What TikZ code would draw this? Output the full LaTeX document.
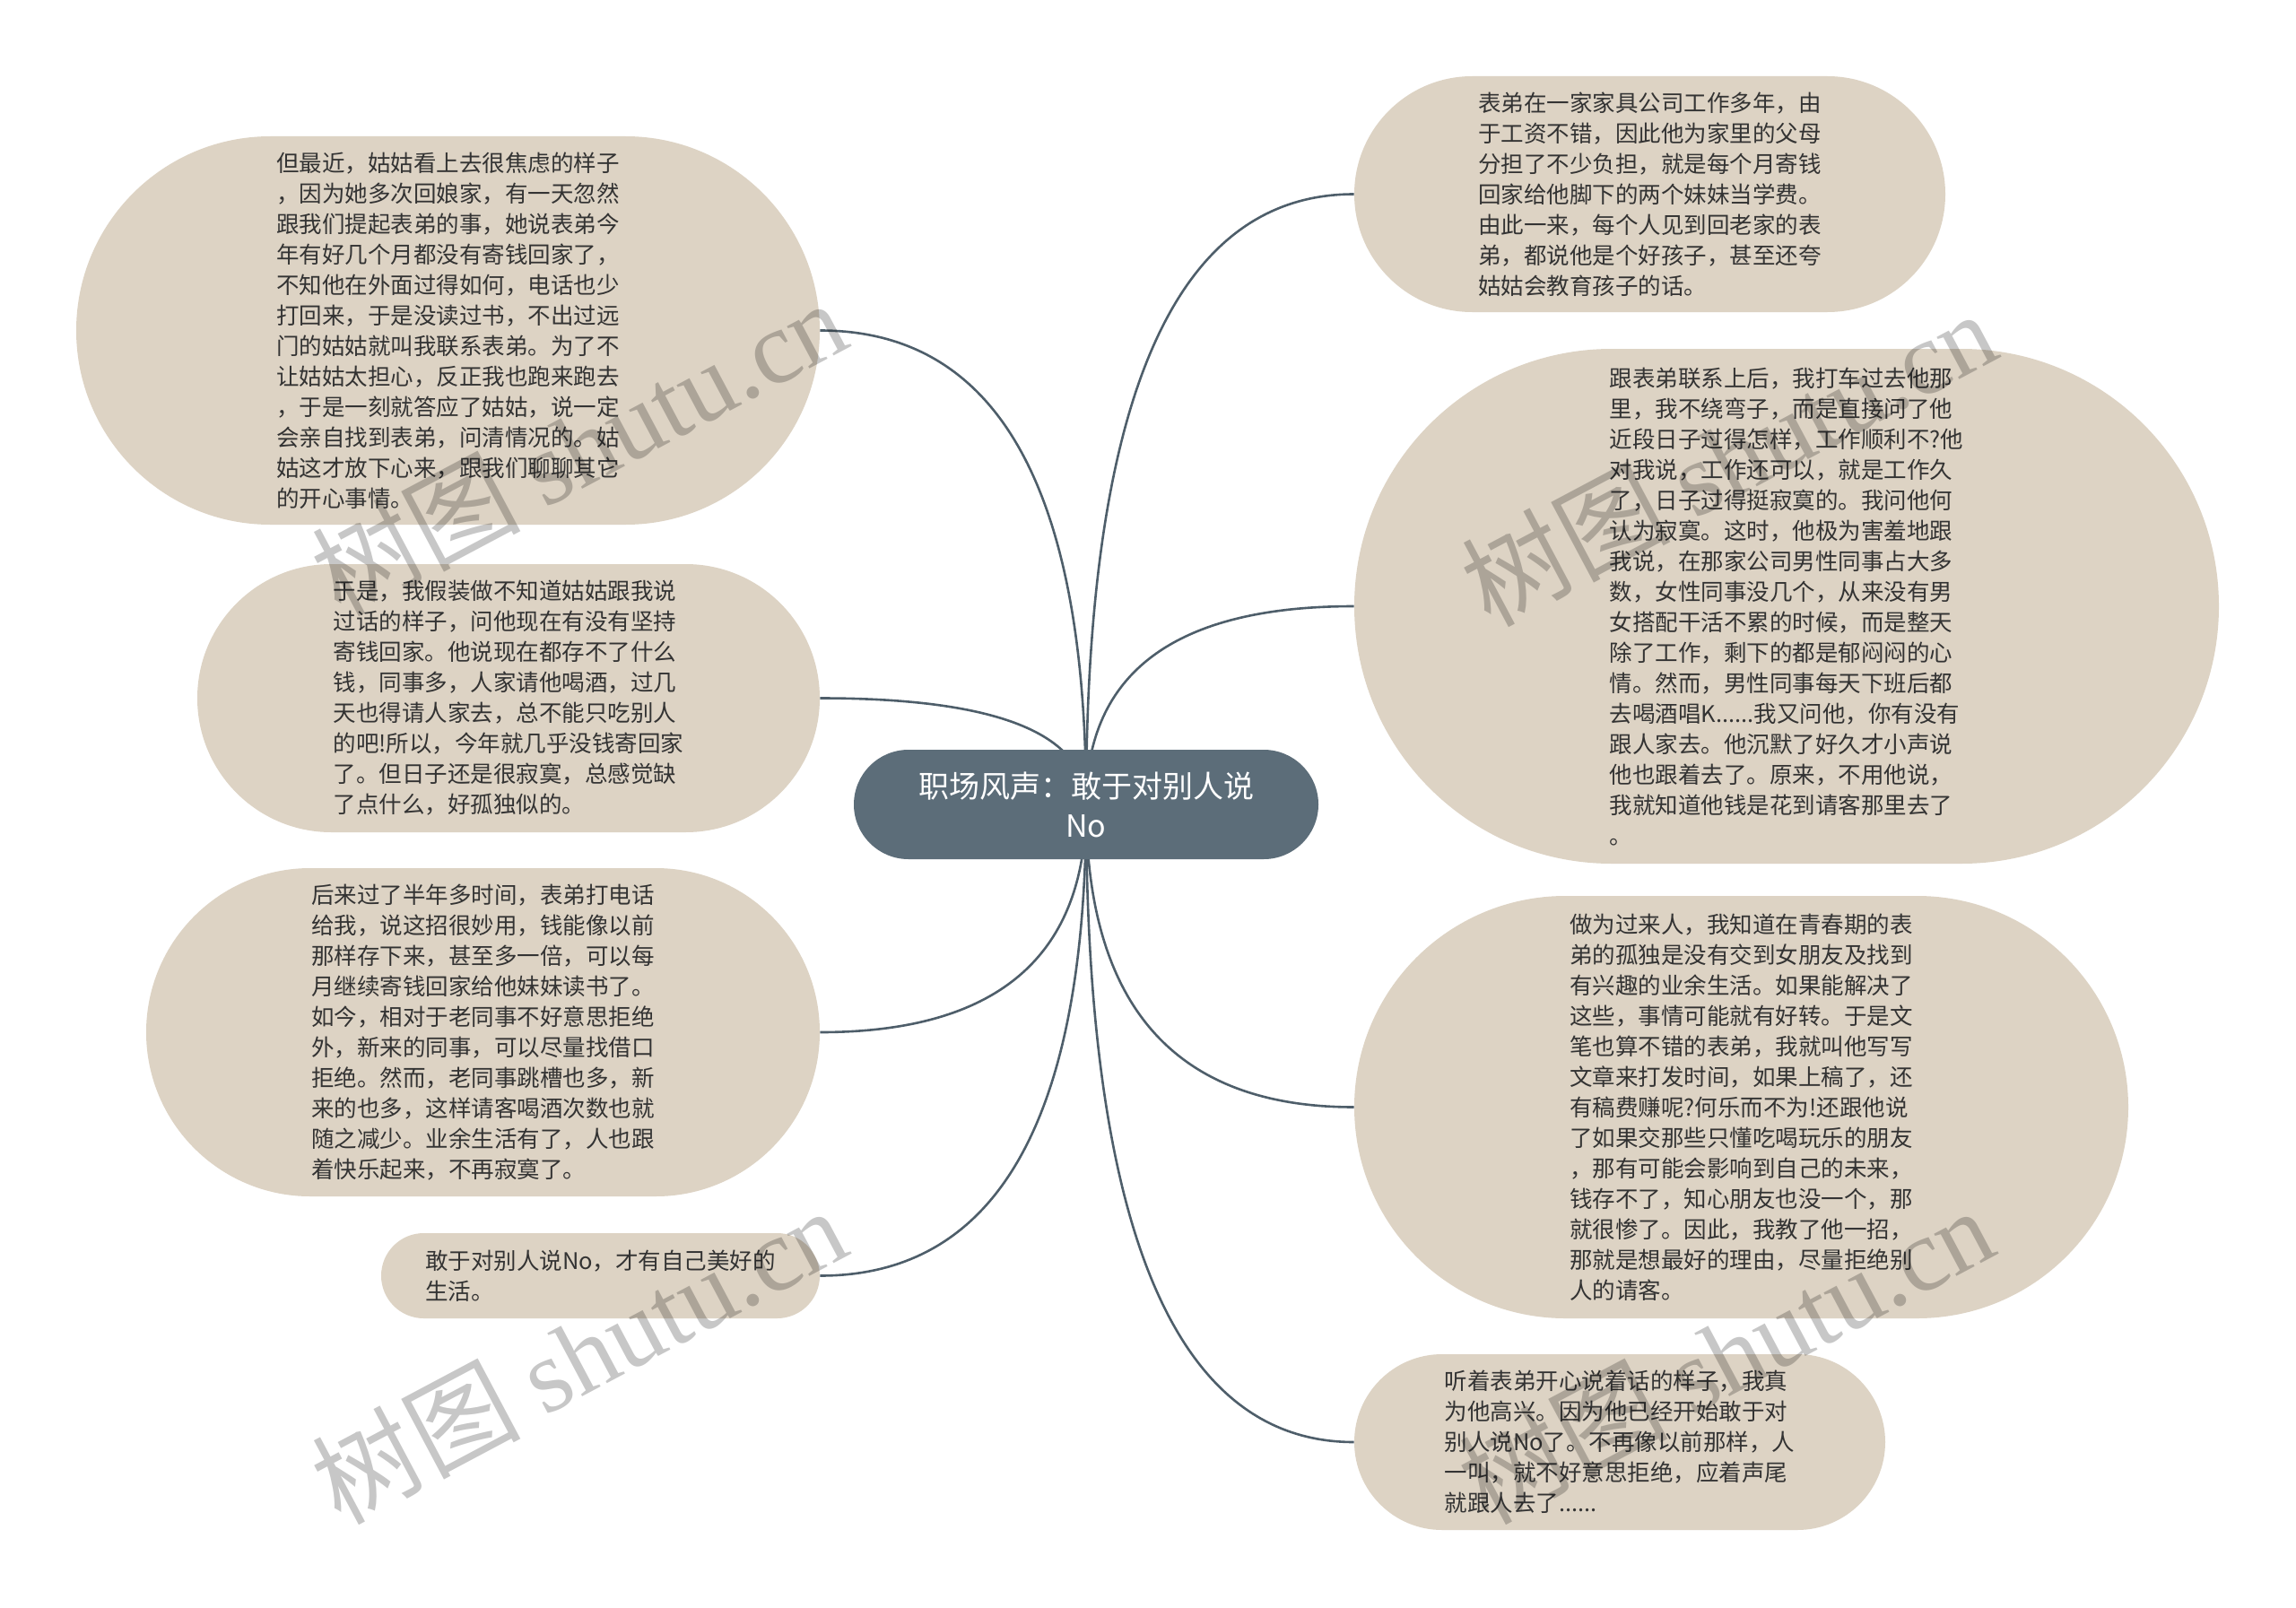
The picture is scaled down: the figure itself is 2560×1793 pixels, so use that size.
\documentclass[tikz,border=0pt]{standalone}
\usepackage{fontspec}
\setmainfont{Noto Sans CJK SC}
\newfontfamily\wmlatin{Liberation Serif}
\usetikzlibrary{calc}
\usetikzlibrary{backgrounds}
\definecolor{leafbeige}{HTML}{DDD3C4}
\definecolor{rootslate}{HTML}{5C6D79}
\definecolor{linkslate}{HTML}{4E5E6A}
\definecolor{textdark}{HTML}{333333}
\tikzset{
  root_node/.style={draw=none, fill=rootslate, text=white, align=center, inner sep=0,
    minimum width=259pt, minimum height=61pt, rounded corners=30.5pt,
    font=\fontsize{17}{22}\selectfont},
  leaf_node/.style 2 args={draw=none, fill=leafbeige, text=textdark, align=left, inner sep=0,
    minimum width=#1*0.5pt, minimum height=#2*0.5pt, rounded corners=#2*0.25pt,
    font=\fontsize{12.75}{17}\selectfont},
  link_curve/.style={draw=linkslate, line width=1.3pt},
  watermark_text/.style={text=black, opacity=0.22, rotate=28, inner sep=0,
    font=\fontsize{58}{58}\selectfont}}

\begin{document}
\begin{tikzpicture}[x=0.5pt, y=-0.5pt]

\useasboundingbox (0,0) rectangle (2560,1793);
\begin{pgfonlayer}{background}
\fill[white] (0,0) rectangle (2560,1793);
\end{pgfonlayer}

% centre topic
\node[root_node] at (1211,897) (root) {职场风声：敢于对别人说\\No};

%%% left branch
\node[leaf_node={829}{433}] at (499.5,368.5) (l1) {但最近，姑姑看上去很焦虑的样子\\，因为她多次回娘家，有一天忽然\\跟我们提起表弟的事，她说表弟今\\年有好几个月都没有寄钱回家了，\\不知他在外面过得如何，电话也少\\打回来，于是没读过书，不出过远\\门的姑姑就叫我联系表弟。为了不\\让姑姑太担心，反正我也跑来跑去\\，于是一刻就答应了姑姑，说一定\\会亲自找到表弟，问清情况的。姑\\姑这才放下心来，跟我们聊聊其它\\的开心事情。};
\node[leaf_node={694}{299}] at (567,778.5) (l2) {于是，我假装做不知道姑姑跟我说\\过话的样子，问他现在有没有坚持\\寄钱回家。他说现在都存不了什么\\钱，同事多，人家请他喝酒，过几\\天也得请人家去，总不能只吃别人\\的吧!所以，今年就几乎没钱寄回家\\了。但日子还是很寂寞，总感觉缺\\了点什么，好孤独似的。};
\node[leaf_node={751}{366}] at (538.5,1151) (l3) {后来过了半年多时间，表弟打电话\\给我，说这招很妙用，钱能像以前\\那样存下来，甚至多一倍，可以每\\月继续寄钱回家给他妹妹读书了。\\如今，相对于老同事不好意思拒绝\\外，新来的同事，可以尽量找借口\\拒绝。然而，老同事跳槽也多，新\\来的也多，这样请客喝酒次数也就\\随之减少。业余生活有了，人也跟\\着快乐起来，不再寂寞了。};
\node[leaf_node={489}{95}] at (669.5,1422.5) (l4) {敢于对别人说No，才有自己美好的\\生活。};

%%% right branch
\node[leaf_node={659}{263}] at (1839.5,216.5) (r1) {表弟在一家家具公司工作多年，由\\于工资不错，因此他为家里的父母\\分担了不少负担，就是每个月寄钱\\回家给他脚下的两个妹妹当学费。\\由此一来，每个人见到回老家的表\\弟，都说他是个好孩子，甚至还夸\\姑姑会教育孩子的话。};
\node[leaf_node={964}{574}] at (1992,676) (r2) {跟表弟联系上后，我打车过去他那\\里，我不绕弯子，而是直接问了他\\近段日子过得怎样，工作顺利不?他\\对我说，工作还可以，就是工作久\\了，日子过得挺寂寞的。我问他何\\认为寂寞。这时，他极为害羞地跟\\我说，在那家公司男性同事占大多\\数，女性同事没几个，从来没有男\\女搭配干活不累的时候，而是整天\\除了工作，剩下的都是郁闷闷的心\\情。然而，男性同事每天下班后都\\去喝酒唱K......我又问他，你有没有\\跟人家去。他沉默了好久才小声说\\他也跟着去了。原来，不用他说，\\我就知道他钱是花到请客那里去了\\。};
\node[leaf_node={863}{471}] at (1941.5,1234.5) (r3) {做为过来人，我知道在青春期的表\\弟的孤独是没有交到女朋友及找到\\有兴趣的业余生活。如果能解决了\\这些，事情可能就有好转。于是文\\笔也算不错的表弟，我就叫他写写\\文章来打发时间，如果上稿了，还\\有稿费赚呢?何乐而不为!还跟他说\\了如果交那些只懂吃喝玩乐的朋友\\，那有可能会影响到自己的未来，\\钱存不了，知心朋友也没一个，那\\就很惨了。因此，我教了他一招，\\那就是想最好的理由，尽量拒绝别\\人的请客。};
\node[leaf_node={592}{196}] at (1806,1608) (r4) {听着表弟开心说着话的样子，我真\\为他高兴。因为他已经开始敢于对\\别人说No了。不再像以前那样，人\\一叫，就不好意思拒绝，应着声尾\\就跟人去了......};

%%% curves from the centre, kept under the nodes
\begin{pgfonlayer}{background}
\draw[link_curve] (root.center) .. controls ($(root.center)!0.667!(root.center |- l1.east)$) and ($(l1.east)!0.667!(root.center |- l1.east)$) .. (l1.east);
\draw[link_curve] (root.center) .. controls ($(root.center)!0.667!(root.center |- l2.east)$) and ($(l2.east)!0.667!(root.center |- l2.east)$) .. (l2.east);
\draw[link_curve] (root.center) .. controls ($(root.center)!0.667!(root.center |- l3.east)$) and ($(l3.east)!0.667!(root.center |- l3.east)$) .. (l3.east);
\draw[link_curve] (root.center) .. controls ($(root.center)!0.667!(root.center |- l4.east)$) and ($(l4.east)!0.667!(root.center |- l4.east)$) .. (l4.east);
\draw[link_curve] (root.center) .. controls ($(root.center)!0.667!(root.center |- r1.west)$) and ($(r1.west)!0.667!(root.center |- r1.west)$) .. (r1.west);
\draw[link_curve] (root.center) .. controls ($(root.center)!0.667!(root.center |- r2.west)$) and ($(r2.west)!0.667!(root.center |- r2.west)$) .. (r2.west);
\draw[link_curve] (root.center) .. controls ($(root.center)!0.667!(root.center |- r3.west)$) and ($(r3.west)!0.667!(root.center |- r3.west)$) .. (r3.west);
\draw[link_curve] (root.center) .. controls ($(root.center)!0.667!(root.center |- r4.west)$) and ($(r4.west)!0.667!(root.center |- r4.west)$) .. (r4.west);
\end{pgfonlayer}

% watermark
\node[watermark_text] at (645,498) (wm1) {树图 {\wmlatin shutu.cn}};
\node[watermark_text] at (1927,510) (wm2) {树图 {\wmlatin shutu.cn}};
\node[watermark_text] at (645,1510) (wm3) {树图 {\wmlatin shutu.cn}};
\node[watermark_text] at (1924,1510) (wm4) {树图 {\wmlatin shutu.cn}};

\end{tikzpicture}
\end{document}
